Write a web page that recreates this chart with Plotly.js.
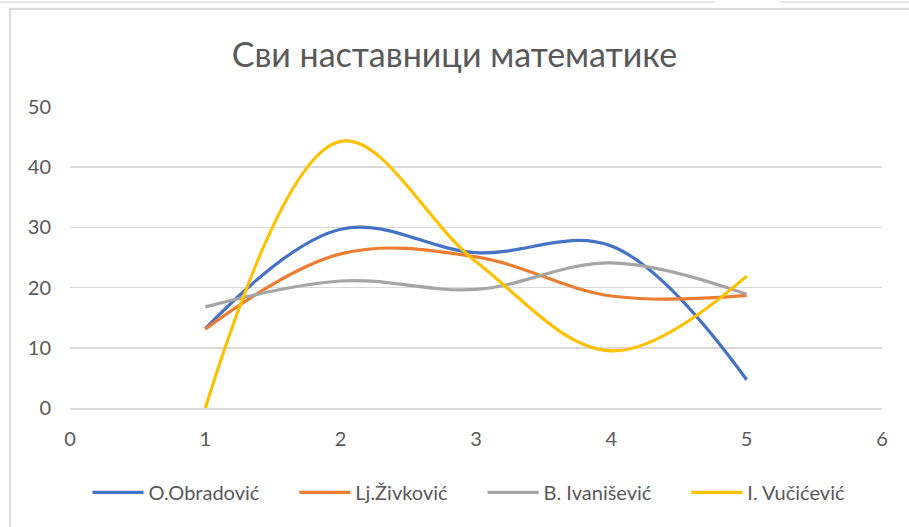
<!DOCTYPE html>
<html>
<head>
<meta charset="utf-8">
<script src="https://cdn.plot.ly/plotly-3.0.1.min.js"></script>
<style>
html,body{margin:0;padding:0;background:#fff;overflow:hidden;}
#chart{position:absolute;left:0;top:0;width:909px;height:527px;}
.frame{position:absolute;pointer-events:none;}
</style>
</head>
<body>
<div id="chart"></div>
<div class="frame" style="left:9px;top:8px;width:910px;height:530px;border-left:2px solid #dcdcdc;border-top:2px solid #dcdcdc;"></div>
<div class="frame" style="left:0;top:1px;width:715px;height:0;border-top:2px solid #e6e6e6;"></div>
<div class="frame" style="left:780px;top:1px;width:129px;height:0;border-top:2px solid #e6e6e6;"></div>
<script>
const xValues = [1, 2, 3, 4, 5];
const seriesNames = ["O.Obradović", "Lj.Živković", "B. Ivanišević", "I. Vučićević"];
const obradovic = [13.2, 29.7, 25.8, 26.9, 4.7];
const zivkovic = [13.1, 25.6, 25.1, 18.6, 18.7];
const ivanisevic = [16.8, 21.1, 19.7, 24.1, 18.9];
const vucicevic = [0, 44.3, 24.3, 9.5, 21.9];
const seriesColors = ["#4472C4", "#ED7D31", "#A5A5A5", "#FFC000"];
const xTicks = [0, 1, 2, 3, 4, 5, 6];
const yTicks = [0, 10, 20, 30, 40, 50];

const allSeries = [obradovic, zivkovic, ivanisevic, vucicevic];
const traces = allSeries.map((vals, i) => ({
  x: xValues,
  y: vals,
  name: seriesNames[i],
  type: "scatter",
  mode: "lines",
  line: {color: seriesColors[i], width: 3.2, shape: "spline", smoothing: 1.05},
  cliponaxis: true
}));

const font = "Lato, 'Open Sans', 'Noto Sans', sans-serif";
const layout = {
  width: 909,
  height: 527,
  margin: {l: 70, r: 27, t: 107, b: 119},
  paper_bgcolor: "#ffffff",
  plot_bgcolor: "#ffffff",
  title: {
    text: "Сви наставници математике",
    font: {family: font, size: 34, color: "#595959"},
    x: 0.5, xanchor: "center",
    y: 0.895, yanchor: "middle"
  },
  xaxis: {
    range: [0, 6],
    tickvals: xTicks,
    ticktext: xTicks.map(String),
    showgrid: false,
    zeroline: false,
    showline: true,
    linecolor: "#d9d9d9",
    linewidth: 1.5,
    ticks: "",
    ticklabelstandoff: 12,
    tickfont: {family: font, size: 20, color: "#595959"},
    fixedrange: true
  },
  yaxis: {
    range: [0, 50],
    tickvals: yTicks,
    ticktext: yTicks.map(String),
    showgrid: true,
    gridcolor: "#d9d9d9",
    gridwidth: 1.5,
    zeroline: false,
    showline: false,
    ticks: "",
    ticklabelstandoff: 18,
    tickfont: {family: font, size: 20, color: "#595959"},
    fixedrange: true
  },
  legend: {
    orientation: "h",
    x: 0.5, xanchor: "center",
    y: -0.28, yanchor: "middle",
    font: {family: font, size: 20, color: "#595959"},
    traceorder: "normal"
  },
  showlegend: true
};

const gd = document.getElementById("chart");
Plotly.newPlot(gd, traces, layout, {displayModeBar: false, staticPlot: true}).then(() => {
  // Excel-style legend: longer line samples, fixed gaps
  const legend = gd.querySelector("g.legend");
  if (!legend) return;
  const scroll = legend.querySelector(".scrollbox");
  if (scroll) scroll.removeAttribute("clip-path");
  const bg = legend.querySelector("rect.bg");
  if (bg) bg.setAttribute("width", 0);
  const items = legend.querySelectorAll("g.traces");
  const gap = 40;
  let x = 0;
  items.forEach(g => {
    const tr = g.getAttribute("transform") || "";
    const m = tr.match(/translate\(([-\d.]+)[ ,]+([-\d.]+)\)/);
    const y = m ? parseFloat(m[2]) : 0;
    const line = g.querySelector("path.js-line");
    if (line) line.setAttribute("d", "M0,0h51");
    const txt = g.querySelector("text.legendtext");
    if (txt) txt.setAttribute("x", 56);
    const w = txt ? txt.getComputedTextLength() : 80;
    g.setAttribute("transform", "translate(" + x + "," + y + ")");
    x += 56 + w + gap;
  });
  const total = x - gap;
  const ltr = legend.getAttribute("transform") || "";
  const lm = ltr.match(/translate\(([-\d.]+)[ ,]+([-\d.]+)\)/);
  const ly = lm ? parseFloat(lm[2]) : 470;
  const lx = (909 - total) / 2 + 14;
  legend.setAttribute("transform", "translate(" + lx + "," + ly + ")");
});
</script>
</body>
</html>
